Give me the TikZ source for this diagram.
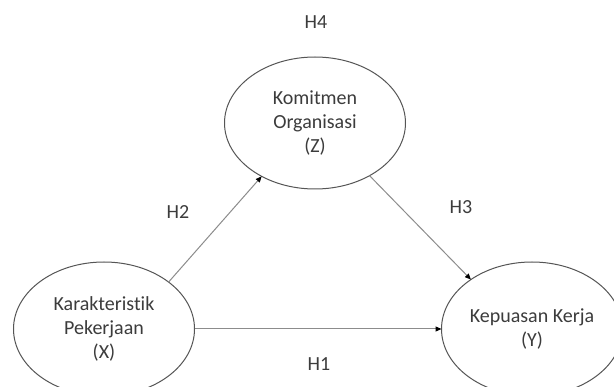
\documentclass[tikz,border=0pt]{standalone}
\usepackage{fontspec}
\setmainfont[Ligatures=NoCommon]{Carlito}
\usetikzlibrary{shapes.geometric,arrows.meta}

\definecolor{c555555}{RGB}{85,85,85}
\definecolor{c8c8c8c}{RGB}{140,140,140}
\definecolor{c3c3c3c}{RGB}{60,60,60}

\begin{document}
\begin{tikzpicture}[y=1pt, x=1pt, yscale=-1, xscale=1, inner sep=0pt, outer sep=0pt,
  font=\fontsize{20}{24}\selectfont,
  var/.style={ellipse, draw=c555555, line width=1pt, text=c3c3c3c, align=center,
    minimum width=181pt, minimum height=134pt},
  hyp/.style={text=c3c3c3c},
  path/.style={draw=c8c8c8c, line width=1pt, -{Triangle[length=6pt, width=5pt, color=black]}}]
\useasboundingbox[fill=white] (0,0) rectangle (614,387);
\begin{scope}% variables
  % ellipse Z
  \node[var, minimum height=132pt] (komit) at (315,123) {Komitmen\\Organisasi\\(Z)};
  % ellipse X
  \node[var] (karak) at (104,329) {Karakteristik\\Pekerjaan\\(X)};
  % ellipse Y
  \node[var] (puas) at (532,329) {Kepuasan Kerja\\(Y)};
\end{scope}
\begin{scope}% paths
  \draw[path] (karak.36) -- (komit.225);
  \draw[path] (komit.316) -- (puas.141);
  \draw[path] (karak.east) -- (puas.west);
\end{scope}
\begin{scope}% hypotheses
  \node[hyp] (h4) at (316,22) {H4};
  \node[hyp] (h2) at (178,212) {H2};
  \node[hyp] (h3) at (461,207) {H3};
  \node[hyp] (h1) at (319,364) {H1};
\end{scope}
\end{tikzpicture}
\end{document}
